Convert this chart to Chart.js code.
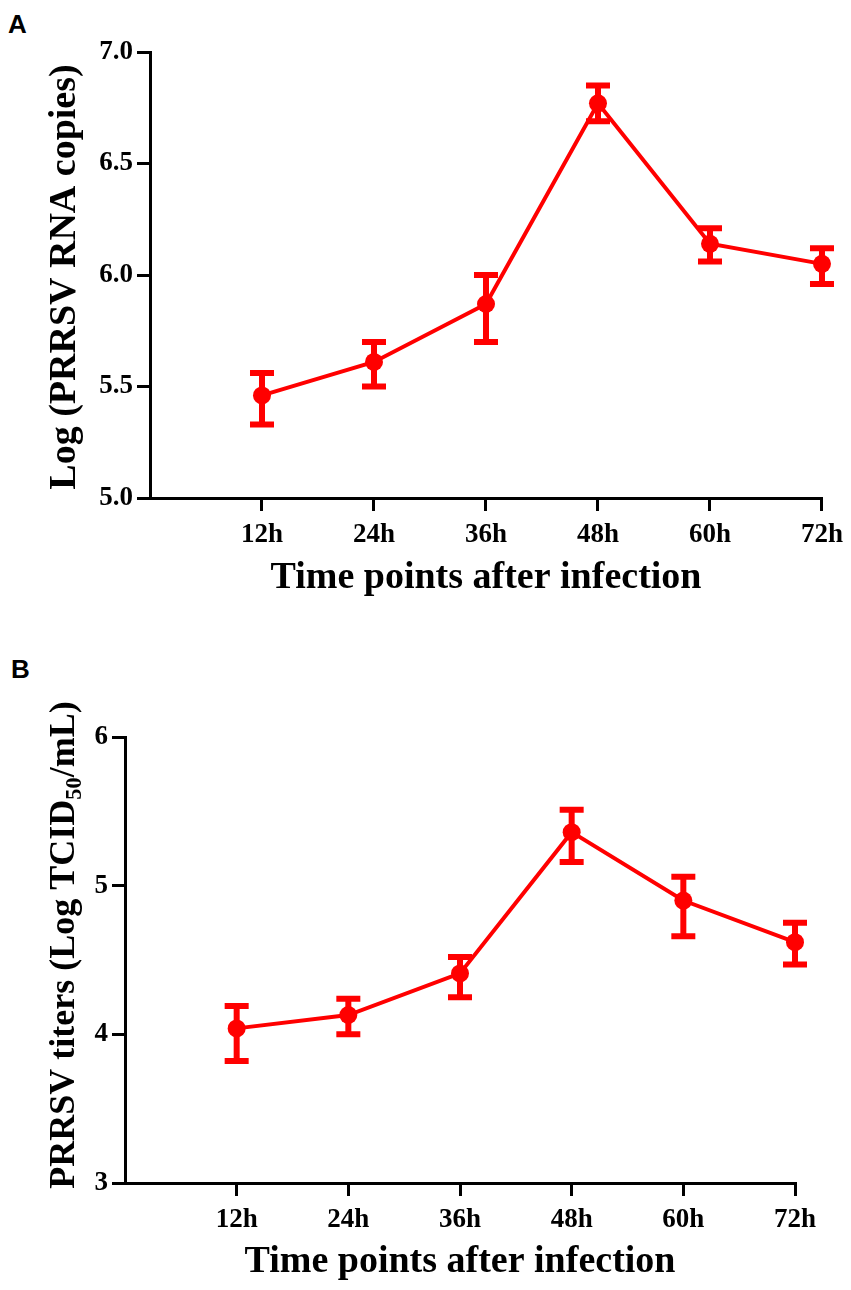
<!DOCTYPE html>
<html>
<head>
<meta charset="utf-8">
<script src="https://cdn.jsdelivr.net/npm/chart.js@4.4.0/dist/chart.umd.min.js"></script>
<style>
  body { margin: 0; background: #fff; width: 851px; height: 1290px; position: relative; overflow: hidden; }
  .panel { position: absolute; left: 0; width: 851px; }
  #panelA { top: 0; height: 620px; }
  #panelB { top: 640px; height: 650px; }
  .tag { position: absolute; font: bold 26px "Liberation Sans", Arial, sans-serif; line-height: 1; }
</style>
</head>
<body>
<div class="tag" style="left:8px; top:11px;">A</div>
<div class="tag" style="left:11px; top:656px;">B</div>
<div class="panel" id="panelA"><canvas id="chartA"></canvas></div>
<div class="panel" id="panelB"><canvas id="chartB"></canvas></div>
<script>
// time points (hours after infection) and their labels
const hours = [12, 24, 36, 48, 60, 72];
const hourLabels = ['12h', '24h', '36h', '48h', '60h', '72h'];

// A: log RNA copies, mean and error bar ends
const rnaMean  = [5.46, 5.61, 5.87, 6.77, 6.14, 6.05];
const rnaUpper = [5.56, 5.70, 6.00, 6.85, 6.21, 6.12];
const rnaLower = [5.33, 5.50, 5.70, 6.69, 6.06, 5.96];
const rnaTicks = [5.0, 5.5, 6.0, 6.5, 7.0];

// B: virus titers, mean and error bar ends
const titerMean  = [4.04, 4.13, 4.41, 5.36, 4.90, 4.62];
const titerUpper = [4.19, 4.24, 4.52, 5.51, 5.06, 4.75];
const titerLower = [3.82, 4.00, 4.25, 5.16, 4.66, 4.47];
const titerTicks = [3, 4, 5, 6];

const RED = '#ff0000';
const SERIF = '"Liberation Serif", "Times New Roman", serif';

// error bars drawn through the chart's own scales
const errorBarPlugin = {
  id: 'errorBars',
  afterDatasetsDraw(chart, args, opts) {
    const { ctx, scales: { x, y } } = chart;
    ctx.save();
    ctx.strokeStyle = RED;
    ctx.lineWidth = 6;
    opts.upper.forEach((hi, i) => {
      const px = x.getPixelForValue(hours[i]);
      const top = y.getPixelForValue(hi);
      const bot = y.getPixelForValue(opts.lower[i]);
      ctx.beginPath();
      ctx.moveTo(px, top); ctx.lineTo(px, bot);
      ctx.moveTo(px - 12, top); ctx.lineTo(px + 12, top);
      ctx.moveTo(px - 12, bot); ctx.lineTo(px + 12, bot);
      ctx.stroke();
    });
    ctx.restore();
  }
};

// rotated y title, with support for a subscript piece
const yTitlePlugin = {
  id: 'yTitle',
  afterDraw(chart, args, opts) {
    const { ctx, chartArea } = chart;
    ctx.save();
    ctx.translate(opts.x, (chartArea.top + chartArea.bottom) / 2 + opts.shift);
    ctx.rotate(-Math.PI / 2);
    let total = 0;
    const parts = opts.parts.map(p => {
      const size = p.sub ? opts.size * 0.62 : opts.size;
      ctx.font = 'bold ' + size + 'px ' + SERIF;
      const w = ctx.measureText(p.text).width;
      total += w;
      return { text: p.text, sub: p.sub, font: ctx.font, w };
    });
    let cx = -total / 2;
    ctx.fillStyle = '#000';
    ctx.textBaseline = 'alphabetic';
    parts.forEach(p => {
      ctx.font = p.font;
      ctx.fillText(p.text, cx, opts.size * 0.34 + (p.sub ? opts.size * 0.18 : 0));
      cx += p.w;
    });
    ctx.restore();
  }
};

function makeChart(id, cfg) {
  return new Chart(document.getElementById(id), {
    type: 'line',
    data: {
      datasets: [{
        data: hours.map((h, i) => ({ x: h, y: cfg.mean[i] })),
        borderColor: RED,
        backgroundColor: RED,
        borderWidth: 4,
        pointRadius: 9,
        pointBackgroundColor: RED,
        pointBorderWidth: 0,
        tension: 0,
        clip: false
      }]
    },
    plugins: [errorBarPlugin, yTitlePlugin],
    options: {
      responsive: true,
      maintainAspectRatio: false,
      animation: false,
      layout: { padding: cfg.padding },
      plugins: {
        legend: { display: false },
        tooltip: { enabled: false },
        errorBars: { upper: cfg.upper, lower: cfg.lower },
        yTitle: { x: 62, shift: cfg.titleShift, size: cfg.titleSize, parts: cfg.yTitle }
      },
      scales: {
        x: {
          type: 'linear',
          min: 0,
          max: 72,
          afterBuildTicks: s => { s.ticks = hours.map(v => ({ value: v })); },
          afterFit: s => { s.height = cfg.xHeight; },
          ticks: {
            color: '#000',
            padding: 8,
            maxRotation: 0,
            font: { family: SERIF, size: 27, weight: 'bold' },
            callback: v => hourLabels[hours.indexOf(v)]
          },
          grid: { drawOnChartArea: false, color: '#000', lineWidth: 3, tickLength: 13 },
          border: { color: '#000', width: 3 },
          title: {
            display: true,
            text: 'Time points after infection',
            color: '#000',
            font: { family: SERIF, size: 38, weight: 'bold' },
            padding: { top: 0, bottom: cfg.xTitlePad }
          }
        },
        y: {
          min: cfg.ticks[0],
          max: cfg.ticks[cfg.ticks.length - 1],
          afterBuildTicks: s => { s.ticks = cfg.ticks.map(v => ({ value: v })); },
          afterFit: s => { s.width = cfg.yWidth; },
          ticks: {
            color: '#000',
            padding: 4,
            font: { family: SERIF, size: 27, weight: 'bold' },
            callback: v => v.toFixed(cfg.decimals)
          },
          grid: { drawOnChartArea: false, color: '#000', lineWidth: 3, tickLength: 13 },
          border: { color: '#000', width: 3 }
        }
      }
    }
  });
}

makeChart('chartA', {
  mean: rnaMean, upper: rnaUpper, lower: rnaLower, ticks: rnaTicks, decimals: 1,
  padding: { left: 0, top: 52, right: 29, bottom: 0 },
  yWidth: 150, xHeight: 122, xTitlePad: 19,
  titleShift: 2, titleSize: 38,
  yTitle: [{ text: 'Log (PRRSV RNA copies)' }]
});

makeChart('chartB', {
  mean: titerMean, upper: titerUpper, lower: titerLower, ticks: titerTicks, decimals: 0,
  padding: { left: 0, top: 97, right: 56, bottom: 0 },
  yWidth: 125, xHeight: 107, xTitlePad: 5,
  titleShift: -15, titleSize: 36,
  yTitle: [{ text: 'PRRSV titers (Log TCID' }, { text: '50', sub: true }, { text: '/mL)' }]
});
</script>
</body>
</html>
